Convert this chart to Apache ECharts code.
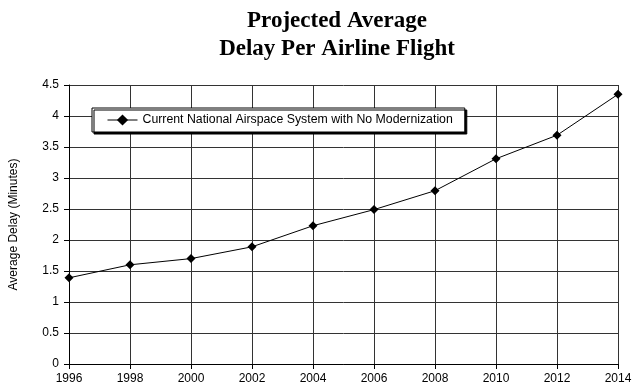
<!DOCTYPE html>
<html><head><meta charset="utf-8">
<script src="https://cdn.jsdelivr.net/npm/echarts@6/dist/echarts.min.js"></script>
<style>html,body{margin:0;padding:0;background:#fff}#c{width:640px;height:392px}</style>
</head><body><div id="c"></div>
<script>
var years = [1996, 1998, 2000, 2002, 2004, 2006, 2008, 2010, 2012, 2014];
var delays = [1.39, 1.6, 1.7, 1.89, 2.23, 2.49, 2.795, 3.31, 3.69, 4.35];
var seriesName = 'Current National Airspace System with No Modernization';
var titleLines = ['Projected Average', 'Delay Per Airline Flight'];
var yAxisTitle = 'Average Delay (Minutes)';

var chart = echarts.init(document.getElementById('c'));
var font = 'Liberation Sans, Arial, sans-serif';
chart.setOption({
  animation: false,
  backgroundColor: '#fff',
  title: {
    text: titleLines.join('\n'),
    left: 332, top: 2, textAlign: 'center',
    textStyle: { fontFamily: 'Liberation Serif, Times New Roman, serif', fontWeight: 'bold', fontSize: 23, lineHeight: 28, color: '#000' }
  },
  legend: {
    left: 92, top: 108,
    backgroundColor: '#fff', borderColor: '#000', borderWidth: 1,
    shadowColor: '#000', shadowOffsetX: 2, shadowOffsetY: 2, shadowBlur: 0,
    padding: [6, 12, 6, 15],
    itemWidth: 30, itemHeight: 14, itemGap: 8,
    lineStyle: { width: 1 },
    textStyle: { fontFamily: font, fontSize: 12.3, color: '#000' },
    data: [seriesName]
  },
  grid: { left: 63, right: 22, top: 85, bottom: 28 },
  xAxis: {
    type: 'value', min: 1996, max: 2014, interval: 2,
    axisLine: { show: true, lineStyle: { color: '#000', width: 1 } },
    axisTick: { show: true, length: 5, lineStyle: { color: '#000' } },
    axisLabel: { color: '#000', fontFamily: font, fontSize: 12, margin: 9, formatter: function (v) { return String(v); } },
    splitLine: { show: true, lineStyle: { color: '#333', width: 1 } }
  },
  yAxis: {
    type: 'value', min: 0, max: 4.5, interval: 0.5,
    name: yAxisTitle, nameLocation: 'middle', nameGap: 49, nameRotate: 90,
    nameTextStyle: { color: '#000', fontFamily: font, fontSize: 12 },
    axisLine: { show: true, lineStyle: { color: '#000', width: 1 } },
    axisTick: { show: true, length: 5, lineStyle: { color: '#000' } },
    axisLabel: { color: '#000', fontFamily: font, fontSize: 12, margin: 10 },
    splitLine: { show: true, lineStyle: { color: '#333', width: 1 } }
  },
  series: [{
    name: seriesName, type: 'line',
    data: years.map(function (y, i) { return [y, delays[i]]; }),
    symbol: 'diamond', symbolSize: 9,
    itemStyle: { color: '#000' },
    lineStyle: { color: '#000', width: 1 }
  }]
});
</script></body></html>
